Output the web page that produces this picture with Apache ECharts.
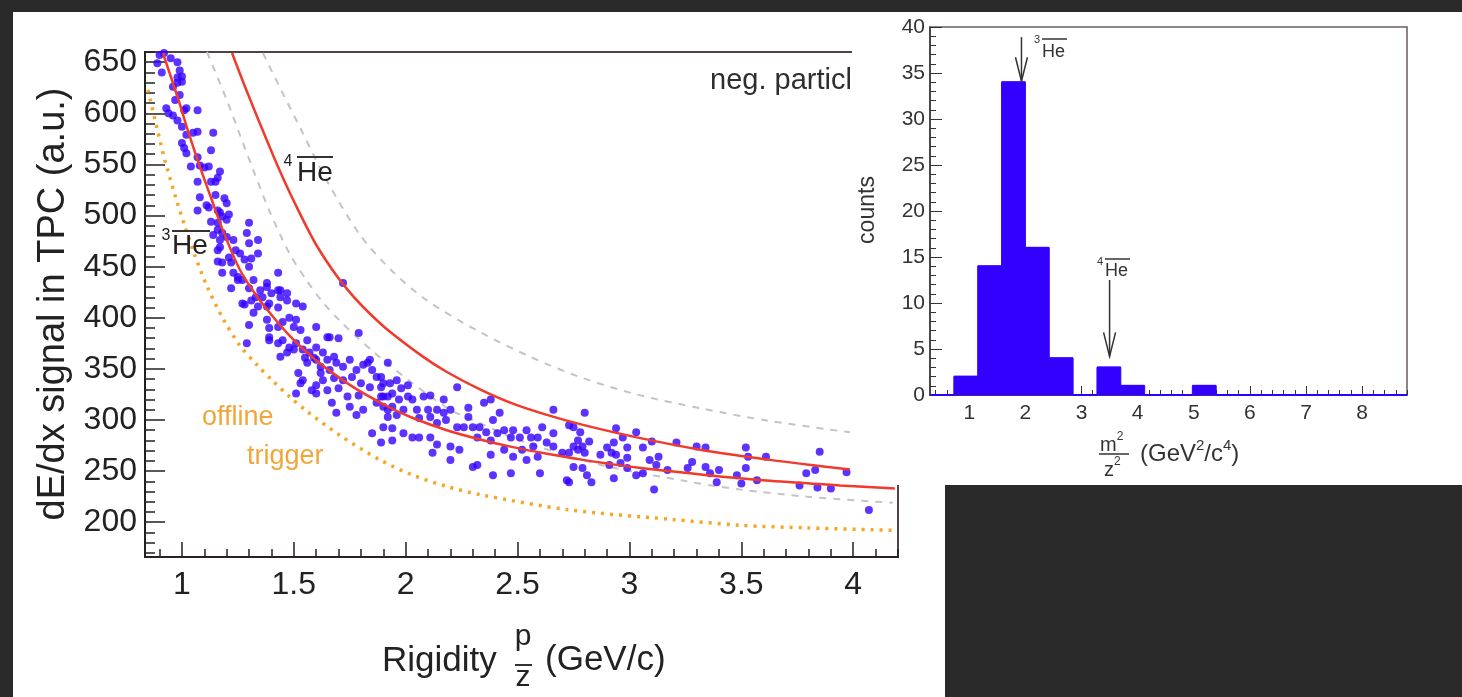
<!DOCTYPE html>
<html>
<head>
<meta charset="utf-8">
<script src="https://cdn.jsdelivr.net/npm/echarts@6/dist/echarts.min.js"></script>
<style>
  html, body { margin: 0; padding: 0; background: #2a2a2a; overflow: hidden; }
  #panel { position: absolute; left: 13px; top: 12px; width: 932px; height: 685px; background: #ffffff; z-index: 0; }
  #main { position: absolute; left: 0; top: 0; width: 1462px; height: 697px; z-index: 1; }
  #inset { position: absolute; left: 852px; top: 12px; width: 610px; height: 473px; background: #ffffff; z-index: 2; }
</style>
</head>
<body>
<div id="panel"></div>
<div id="main"></div>
<div id="inset"></div>
<script>
// ---------- dE/dx versus rigidity (negative tracks) ----------
const rigidityTicks = [1, 1.5, 2, 2.5, 3, 3.5, 4];
const dedxTicks = [200, 250, 300, 350, 400, 450, 500, 550, 600, 650];

// measured tracks: [rigidity (GeV/c), dE/dx (a.u.)]
const tracks = [
  [0.90,657],[0.92,659],[0.95,654],[0.98,650],[0.89,649],[0.91,640],[0.99,642],[1.00,636],[0.98,635],[1.00,631],
  [0.98,630],[0.99,618],[0.97,613],[0.93,605],[0.94,600],[0.96,598],[0.98,593],[1.01,603],[1.02,605],[1.07,603],
  [1.00,587],[1.02,579],[1.05,581],[1.07,582],[1.14,581],[1.00,571],[1.01,566],[1.02,561],[1.07,557],[1.13,564],
  [1.04,548],[1.08,549],[1.10,547],[1.12,548],[1.17,543],[1.07,533],[1.13,533],[1.15,533],[1.16,537],[1.08,518],
  [1.11,510],[1.15,520],[1.19,517],[1.20,512],[1.07,505],[1.12,508],[1.16,505],[1.17,503],[1.18,499],[1.21,501],
  [1.13,494],[1.16,493],[1.16,486],[1.18,483],[1.30,493],[1.29,483],[1.14,481],[0.96,626],[1.20,496],[1.23,476],
  [1.17,469],[1.22,454],[1.25,440],[1.32,437],[1.38,430],[1.44,427],[1.72,434],
  [1.17,476],[1.20,479],[1.30,473],[1.16,466],[1.16,455],[1.18,454],[1.21,459],[1.24,466],[1.26,463],[1.28,457],
  [1.31,458],[1.34,463],[1.30,450],[1.18,444],[1.23,444],[1.25,437],[1.22,429],[1.27,437],[1.30,429],[1.35,427],
  [1.38,434],[1.43,444],[1.40,424],[1.43,427],[1.44,420],[1.47,424],[1.47,417],[1.27,414],[1.31,417],[1.34,411],
  [1.36,420],[1.39,414],[1.43,410],[1.54,411],[1.30,393],[1.38,398],[1.39,390],[1.43,391],[1.45,396],[1.48,400],
  [1.51,398],[1.50,391],[1.53,388],[1.60,391],[1.29,375],[1.39,378],[1.43,375],[1.44,362],[1.47,366],[1.48,371],
  [1.51,375],[1.56,378],[1.54,369],[1.57,366],[1.55,361],[1.60,371],[1.63,366],[1.65,381],[1.70,380],[1.79,385],
  [1.52,346],[1.56,356],[1.60,359],[1.62,352],[1.65,359],[1.68,362],[1.69,356],[1.66,349],[1.72,352],[1.75,359],
  [1.78,349],[1.81,354],[1.84,359],[1.85,349],[1.54,339],[1.60,334],[1.63,339],[1.68,341],[1.72,339],[1.76,342],
  [1.80,336],[1.84,332],[1.87,342],[1.89,332],[1.51,326],[1.60,326],[1.65,329],[1.70,331],[1.74,323],[1.79,324],
  [1.67,317],[1.75,313],[1.81,310],[1.87,317],[1.69,307],[1.78,305],[1.90,323],[1.92,310],
  [1.34,476],[1.33,420],[1.53,336],[1.28,413],[1.32,405],[1.38,411],[1.39,381],[1.45,378],[1.50,369],[1.51,414],
  [1.59,361],[1.62,346],[1.66,381],[1.83,356],[1.58,329],[1.85,287],
  [1.92,356],[1.89,342],[1.90,336],[1.93,336],[1.96,339],[1.98,331],[2.01,334],[1.89,323],[1.92,323],[1.94,326],
  [1.97,320],[2.01,323],[1.90,313],[1.94,313],[1.99,310],[1.92,303],[1.96,305],[1.90,293],[1.94,292],[1.99,287],
  [1.94,280],[1.89,278],[2.03,320],[2.08,323],[2.11,324],[2.17,320],[2.05,310],[2.10,310],[2.14,310],[2.17,307],
  [2.20,310],[2.06,302],[2.11,303],[2.14,297],[2.18,300],[2.23,332],[2.23,293],[2.26,293],[2.28,312],[2.28,303],
  [2.03,283],[2.06,283],[2.11,283],[2.14,276],[2.12,268],[2.20,274],[2.24,271],[2.20,261],[2.30,293],[2.33,293],
  [2.32,283],[2.35,317],[2.38,320],[2.42,307],[2.39,300],[2.36,288],[2.41,287],[2.38,280],[2.38,266],[2.44,271],
  [2.30,254],[2.32,256],[2.39,246],[2.47,283],[2.44,290],[2.48,290],[2.51,283],[2.54,290],[2.56,283],[2.59,283],
  [2.61,293],[2.57,274],[2.63,278],[2.66,287],[2.52,271],[2.48,264],[2.54,261],[2.59,264],[2.47,248],[2.60,248],
  [2.66,310],[2.66,274],[2.70,268],[2.72,241],[2.75,254],[2.77,280],[2.77,271],[2.75,293],
  [2.80,307],[2.73,295],[2.78,288],[2.75,274],[2.79,274],[2.80,268],[2.73,268],[2.79,253],[2.81,246],[2.83,239],
  [2.82,279],[2.73,239],[2.94,292],[2.97,283],[3.03,288],[2.93,278],[2.90,273],[2.92,268],[2.87,266],[2.99,273],
  [2.94,266],[2.99,263],[2.96,258],[2.91,256],[2.99,253],[3.06,273],[3.10,279],[3.09,261],[3.13,264],[3.12,256],
  [3.03,246],[3.06,248],[2.93,243],[3.17,251],[3.11,232],[3.21,278],[3.30,274],[3.34,273],[3.28,259],[3.26,253],
  [3.34,254],[3.36,248],[3.39,239],[3.40,251],[3.48,246],[3.50,238],[3.52,273],[3.53,264],[3.52,253],[3.57,241],
  [3.61,264],
  [3.76,236],[3.79,248],[3.83,251],[3.85,269],[3.84,234],[3.90,233],[3.97,249],[4.07,212]
];

// expected bands
const he3Line = [
  [0.915,659],[0.982,615],[1.027,583],[1.072,553],[1.134,515],[1.184,485],[1.259,447],[1.335,421],[1.407,401],
  [1.483,382],[1.559,366],[1.630,353],[1.706,341],[1.782,330],[1.930,312],[2.032,302],[2.184,290],[2.332,281],
  [2.479,273.5],[2.631,267],[2.779,261.5],[3.033,253.5],[3.328,246.5],[3.628,240.5],[3.940,236],[4.186,233]
];
const he4Line = [
  [1.224,659],[1.282,626],[1.358,585],[1.429,548],[1.496,516],[1.604,470],[1.738,428],[1.894,393],[2.077,362],
  [2.184,347],[2.332,330],[2.479,316],[2.631,305],[2.779,296],[3.033,283],[3.328,270.5],[3.628,261],[3.793,256.5],
  [3.985,251.5]
];
const bandLow = [
  [1.112,660],[1.206,610],[1.259,579],[1.318,545],[1.394,503],[1.483,462],[1.559,436],[1.630,415],[1.706,397],
  [1.782,381],[1.854,367],[1.930,353],[2.184,312],[2.332,297],[2.511,280],[2.855,257],[3.256,240],[3.493,232],
  [3.793,225],[4.177,219]
];
const bandHigh = [
  [1.362,659],[1.452,619],[1.528,586],[1.648,534],[1.796,481],[1.943,445],[2.095,417],[2.332,386],[2.555,362],
  [2.779,342],[3.033,325],[3.328,311],[3.628,299],[3.985,288]
];
const triggerLine = [
  [0.848,623],[0.889,585],[0.924,554],[0.969,520],[1.014,489],[1.058,461],[1.112,431],[1.184,399],[1.259,373],
  [1.335,354],[1.407,338],[1.483,322.5],[1.559,308.5],[1.706,285],[1.885,261],[2.032,246],[2.184,235],[2.332,227],
  [2.734,212],[3.181,203],[3.493,197],[3.793,194.5],[4.186,192]
];

// ---------- m^2/z^2 histogram ----------
const m2Edges = [0.3,0.725,1.15,1.575,2.0,2.425,2.85,3.275,3.7,4.125,4.55,4.975,5.4,5.825,6.25,6.675,7.1,7.525,7.95,8.375,8.8];
const m2Counts = [0,2,14,34,16,4,0,3,1,0,0,1,0,0,0,0,0,0,0,0];
const m2Ticks = [1, 2, 3, 4, 5, 6, 7, 8];
const countTicks = [0, 5, 10, 15, 20, 25, 30, 35, 40];
// arrow markers: [m2/z2, shaft top, tip]
const m2Markers = [[1.93, 38.9, 34.1], [3.5, 12.5, 4.2]];

const FONT = "'Liberation Sans', Arial, Helvetica, sans-serif";
const INK = '#222222';
const BLUE = '#3300ff';

function steps(a, b, d) {
  const out = [];
  for (let i = 0; a + i * d <= b + 1e-9; i++) out.push(Math.round((a + i * d) * 1000) / 1000);
  return out;
}
const rigidityMinor = steps(0.9, 4.2, 0.1);
const dedxMinor = steps(170, 660, 10);
const m2Minor = steps(0.4, 8.8, 0.2);
const countMinor = steps(1, 40, 1);

function valueAxis(o) {
  return Object.assign({
    type: 'value',
    splitLine: { show: false },
    axisLine: { show: false, onZero: false },
    axisLabel: { show: false }
  }, o);
}
function txt(x, y, text, size, extra) {
  return {
    type: 'text', x: x, y: y, z: 20,
    style: Object.assign({ text: text, font: size + 'px ' + FONT, fill: INK, align: 'left', verticalAlign: 'middle' }, extra || {})
  };
}
function seg(x1, y1, x2, y2, w) {
  return { type: 'line', z: 20, shape: { x1: x1, y1: y1, x2: x2, y2: y2 }, style: { stroke: '#333', lineWidth: w || 2 } };
}
// lays out text pieces (with raised superscripts) one after another
const measure = document.createElement('canvas').getContext('2d');
function textRun(x, y, pieces, color) {
  const out = [];
  let cx = x;
  pieces.forEach(function (p) {
    out.push(txt(cx, y + (p[2] || 0), p[0], p[1], { fill: color }));
    measure.font = p[1] + 'px ' + FONT;
    cx += measure.measureText(p[0]).width;
  });
  return out;
}

const main = echarts.init(document.getElementById('main'));
main.setOption({
  animation: false,
  backgroundColor: 'transparent',
  grid: [{ left: 145, top: 52, width: 753, height: 505, show: true, borderColor: '#4d4343', borderWidth: 2, outerBoundsMode: 'none' }],
  xAxis: [
    valueAxis({
      min: 0.835, max: 4.2,
      axisLine: { show: true, onZero: false, lineStyle: { color: '#2b2323', width: 2 } },
      axisTick: { show: true, inside: true, length: 15, customValues: rigidityTicks, lineStyle: { color: INK, width: 1.5 } },
      axisLabel: { show: true, customValues: rigidityTicks, margin: 12, fontSize: 32, fontFamily: FONT, color: INK }
    }),
    valueAxis({
      min: 0.835, max: 4.2, position: 'bottom',
      axisTick: { show: true, inside: true, length: 8, customValues: rigidityMinor, lineStyle: { color: INK, width: 1.5 } }
    })
  ],
  yAxis: [
    valueAxis({
      min: 166, max: 660,
      axisLine: { show: true, onZero: false, lineStyle: { color: INK, width: 2 } },
      axisTick: { show: true, inside: true, length: 20, customValues: dedxTicks, lineStyle: { color: INK, width: 1.5 } },
      axisLabel: { show: true, customValues: dedxTicks, margin: 8, fontSize: 32, fontFamily: FONT, color: INK }
    }),
    valueAxis({
      min: 166, max: 660, position: 'left',
      axisTick: { show: true, inside: true, length: 10, customValues: dedxMinor, lineStyle: { color: INK, width: 1.5 } }
    })
  ],
  series: [
    { type: 'line', data: triggerLine, smooth: 0.3, showSymbol: false, silent: true, z: 2,
      lineStyle: { color: '#f5a623', width: 3.5, type: [3, 6], cap: 'butt' } },
    { type: 'line', data: bandLow, smooth: 0.3, showSymbol: false, silent: true, z: 2,
      lineStyle: { color: '#c4c4c4', width: 2, type: [7, 7] } },
    { type: 'line', data: bandHigh, smooth: 0.3, showSymbol: false, silent: true, z: 2,
      lineStyle: { color: '#c4c4c4', width: 2, type: [7, 7] } },
    { type: 'scatter', data: tracks, symbolSize: 8, silent: true, z: 3,
      itemStyle: { color: BLUE } },
    { type: 'line', data: he3Line, smooth: 0.3, showSymbol: false, silent: true, z: 4,
      lineStyle: { color: '#f03a2c', width: 2.5 } },
    { type: 'line', data: he4Line, smooth: 0.3, showSymbol: false, silent: true, z: 4,
      lineStyle: { color: '#f03a2c', width: 2.5 } }
  ],
  graphic: { elements: [
    Object.assign(txt(54, 304, 'dE/dx signal in TPC (a.u.)', 38, { align: 'center' }), { rotation: Math.PI / 2 }),
    txt(382, 661, 'Rigidity', 35),
    txt(523, 637, 'p', 30, { align: 'center' }),
    seg(515, 665, 532, 665, 2),
    txt(523, 678, 'z', 30, { align: 'center' }),
    txt(545, 660, '(GeV/c)', 35),
    txt(710, 81, 'neg. particles', 29, { fill: '#2e2e2e' }),
    txt(166, 236, '3', 16, { align: 'center' }),
    txt(172, 246, 'He', 28),
    seg(172, 231, 210, 231, 2),
    txt(288, 162, '4', 16, { align: 'center' }),
    txt(297, 173, 'He', 28),
    seg(297, 157, 333, 157, 2),
    txt(202, 418, 'offline', 27, { fill: '#f2a63a' }),
    txt(247, 457, 'trigger', 27, { fill: '#f2a63a' })
  ] }
});

// ---------- inset histogram ----------
const inset = echarts.init(document.getElementById('inset'));
const histData = m2Counts.map(function (c, i) { return [m2Edges[i], m2Edges[i + 1], c]; });
inset.setOption({
  animation: false,
  backgroundColor: '#ffffff',
  grid: [{ left: 78, top: 15, width: 477, height: 368, show: true, borderColor: '#6a5c5c', borderWidth: 1.5, outerBoundsMode: 'none' }],
  xAxis: [
    valueAxis({
      min: 0.3, max: 8.8,
      axisLine: { show: true, onZero: false, lineStyle: { color: '#333', width: 1.5 } },
      axisTick: { show: true, inside: true, length: 9, customValues: m2Ticks, lineStyle: { color: '#333', width: 1 } },
      axisLabel: { show: true, customValues: m2Ticks, margin: 8, fontSize: 21, fontFamily: FONT, color: '#333' }
    }),
    valueAxis({
      min: 0.3, max: 8.8, position: 'bottom',
      axisTick: { show: true, inside: true, length: 5, customValues: m2Minor, lineStyle: { color: '#333', width: 1 } }
    })
  ],
  yAxis: [
    valueAxis({
      min: 0, max: 40,
      axisLine: { show: true, onZero: false, lineStyle: { color: '#333', width: 1.5 } },
      axisTick: { show: true, inside: true, length: 12, customValues: countTicks, lineStyle: { color: '#333', width: 1 } },
      axisLabel: { show: true, customValues: countTicks, margin: 5, fontSize: 21, fontFamily: FONT, color: '#333' }
    }),
    valueAxis({
      min: 0, max: 40, position: 'left',
      axisTick: { show: true, inside: true, length: 6, customValues: countMinor, lineStyle: { color: '#333', width: 1 } }
    })
  ],
  series: [
    {
      type: 'custom', silent: true, z: 5,
      encode: { x: [0, 1], y: 2 },
      data: histData,
      renderItem: function (params, api) {
        const top = api.coord([api.value(0), api.value(2)]);
        const base = api.coord([api.value(1), 0]);
        return { type: 'group', children: [
          { type: 'rect', shape: { x: top[0], y: top[1], width: base[0] - top[0], height: base[1] - top[1] },
            style: { fill: BLUE, stroke: BLUE, lineWidth: 1 } },
          { type: 'line', shape: { x1: top[0], y1: top[1], x2: base[0], y2: top[1] }, style: { stroke: BLUE, lineWidth: 2 } }
        ] };
      }
    },
    {
      type: 'custom', silent: true, z: 6,
      encode: { x: 0, y: [1, 2] },
      data: m2Markers,
      renderItem: function (params, api) {
        const a = api.coord([api.value(0), api.value(1)]);
        const b = api.coord([api.value(0), api.value(2)]);
        return { type: 'group', children: [
          { type: 'line', shape: { x1: a[0], y1: a[1], x2: b[0], y2: b[1] }, style: { stroke: '#333', lineWidth: 1.5 } },
          { type: 'polyline', shape: { points: [[b[0] - 6, b[1] - 24], [b[0], b[1]], [b[0] + 6, b[1] - 24]] },
            style: { stroke: '#333', fill: null, lineWidth: 1.5 } }
        ] };
      }
    }
  ],
  graphic: { elements: [
    Object.assign(txt(16, 198, 'counts', 23, { align: 'center', fill: '#333' }), { rotation: Math.PI / 2 }),
    txt(185, 28, '3', 11, { align: 'center', fill: '#333' }),
    txt(190, 40, 'He', 18, { fill: '#333' }),
    seg(190, 27, 215, 27, 1.5),
    txt(248, 250, '4', 11, { align: 'center', fill: '#333' }),
    txt(253, 259, 'He', 18, { fill: '#333' }),
    seg(253, 247, 278, 247, 1.5),
    seg(247, 442, 277, 442, 1.5)
  ].concat(
    textRun(248, 433, [['m', 20], ['2', 12, -8]], '#333'),
    textRun(252, 458, [['z', 20], ['2', 12, -8]], '#333'),
    textRun(288, 442, [['(GeV', 24], ['2', 15, -8], ['/c', 24], ['4', 15, -8], [')', 24]], '#333')
  ) }
});
</script>
</body>
</html>
